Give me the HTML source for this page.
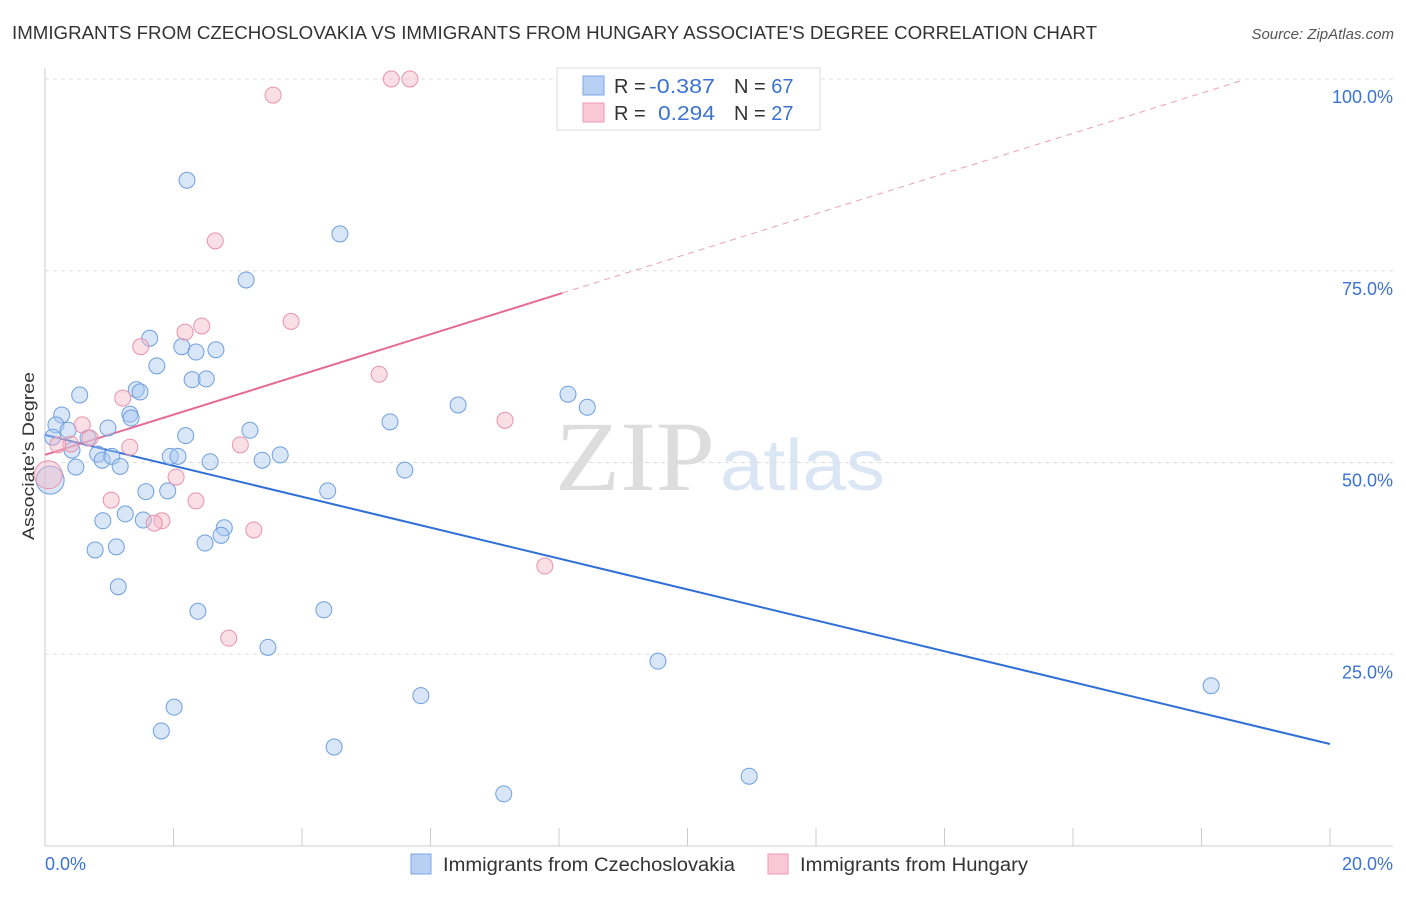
<!DOCTYPE html>
<html><head><meta charset="utf-8"><style>
body{margin:0;background:#fff;font-family:"Liberation Sans",sans-serif;}
svg text{font-family:"Liberation Sans",sans-serif;}
</style></head><body>
<svg id="chart" width="1406" height="892" xmlns="http://www.w3.org/2000/svg">
<text x="12" y="39" font-size="18" fill="#333" textLength="1085" lengthAdjust="spacingAndGlyphs">IMMIGRANTS FROM CZECHOSLOVAKIA VS IMMIGRANTS FROM HUNGARY ASSOCIATE'S DEGREE CORRELATION CHART</text>
<text x="1394" y="39" font-size="15" fill="#555" text-anchor="end" font-style="italic">Source: ZipAtlas.com</text>
<text x="555" y="490" font-size="100" fill="#ddd" textLength="160" lengthAdjust="spacingAndGlyphs" style="font-family:'Liberation Serif',serif">ZIP</text>
<text x="720" y="490" font-size="72" fill="#dbe6f5" textLength="165" lengthAdjust="spacingAndGlyphs">atlas</text>
<g id="grid"></g>
<g id="axes"></g>
<g id="lines"></g>
<g id="pts"></g>
<text transform="translate(34,456) rotate(-90)" font-size="17" fill="#333" text-anchor="middle" textLength="168" lengthAdjust="spacingAndGlyphs">Associate's Degree</text>
<g>
<rect x="557" y="68" width="263" height="62" fill="#fff" stroke="#ddd"/>
<rect x="583" y="76" width="21" height="19" fill="#b8d0f4" stroke="#7aa6e6"/>
<rect x="583" y="103" width="21" height="19" fill="#f9c8d6" stroke="#ee9ab4"/>
<text x="614" y="93" font-size="20" fill="#333">R = </text>
<text x="649" y="93" font-size="20" fill="#3b73d1" textLength="66" lengthAdjust="spacingAndGlyphs">-0.387</text>
<text x="734" y="93" font-size="20" fill="#333">N = <tspan fill="#3b73d1">67</tspan></text>
<text x="614" y="120" font-size="20" fill="#333">R = </text>
<text x="658" y="120" font-size="20" fill="#3b73d1" textLength="57" lengthAdjust="spacingAndGlyphs">0.294</text>
<text x="734" y="120" font-size="20" fill="#333">N = <tspan fill="#3b73d1">27</tspan></text>
</g>
<g>
<rect x="411" y="854" width="20" height="20" fill="#b8d0f4" stroke="#7aa6e6"/>
<text x="443" y="871" font-size="19" fill="#333" textLength="292" lengthAdjust="spacingAndGlyphs">Immigrants from Czechoslovakia</text>
<rect x="768" y="854" width="20" height="20" fill="#f9c8d6" stroke="#ee9ab4"/>
<text x="800" y="871" font-size="19" fill="#333" textLength="228" lengthAdjust="spacingAndGlyphs">Immigrants from Hungary</text>
</g>
</svg>
<script>
const blueX=[2.21,4.59,3.13,1.63,2.13,2.35,2.66,1.74,2.29,2.51,0.54,1.42,1.48,0.26,1.32,1.34,0.17,0.36,0.98,3.19,5.37,6.43,8.14,8.44,2.19,0.67,0.42,0.82,0.89,1.04,1.95,2.07,2.57,3.38,3.66,1.17,0.48,5.60,1.57,1.91,4.40,0.90,1.25,1.53,2.79,2.74,2.49,0.78,1.11,1.14,2.38,4.34,3.47,9.54,18.15,5.85,2.01,1.81,4.50,10.96,7.14,0.12,0.08];
const blueY=[86.8,79.8,73.8,66.2,65.1,64.4,64.7,62.6,60.8,60.9,58.8,59.5,59.2,56.2,56.3,55.8,54.9,54.2,54.5,54.2,55.3,57.5,58.9,57.2,53.5,53.2,51.6,51.1,50.3,50.8,50.8,50.8,50.1,50.3,51.0,49.5,49.4,49.0,46.2,46.3,46.3,42.4,43.3,42.5,41.5,40.5,39.5,38.6,39.0,33.8,30.6,30.8,25.9,24.1,20.9,19.6,18.1,15.0,12.9,9.1,6.8,53.3,47.7];
const pinkX=[5.39,5.68,3.55,2.65,3.83,2.18,2.44,1.49,5.20,1.21,7.16,0.58,0.70,0.40,1.32,3.04,2.04,1.03,2.35,1.82,1.70,3.25,7.78,2.86,0.05,0.20];
const pinkY=[100,100,97.9,78.9,68.4,67.0,67.8,65.1,61.5,58.4,55.5,54.9,53.2,52.4,52.0,52.3,48.1,45.1,45.0,42.4,42.1,41.2,36.5,27.1,48.4,52.3];
const blueFit=[53.6,13.3];
const pinkFit=[51.0,2.62];
const yTicks=[25,50,75,100];
const xTickLabels=["0.0%","20.0%"];
const NS="http://www.w3.org/2000/svg";
const sx=v=>45+v*64.25, sy=v=>846-v*7.67;
function mk(tag,attrs,parent){const e=document.createElementNS(NS,tag);for(const k in attrs)e.setAttribute(k,attrs[k]);document.getElementById(parent).appendChild(e);return e;}
yTicks.forEach(t=>{
 const l=mk('line',{x1:45,x2:1393,y1:sy(t),y2:sy(t),stroke:'#ddd','stroke-dasharray':'4,4'},'grid');
 
 
 const tx=mk('text',{x:1393,y:sy(t)+24,'font-size':18,fill:'#3b73d1','text-anchor':'end'},'grid');
 tx.textContent=t.toFixed(1)+'%';
 
 
});
mk('line',{x1:45,x2:45,y1:68,y2:846,stroke:'#ccc'},'axes');
mk('line',{x1:45,x2:1393,y1:846,y2:846,stroke:'#ccc'},'axes');
for(let i=0;i<=10;i++){const t=mk('line',{x1:sx(i*2),x2:sx(i*2),y1:828,y2:846,stroke:'#ccc'},'axes');
 
 }
let a=mk('text',{x:45,y:870,'font-size':18,fill:'#3b73d1'},'axes');a.textContent=xTickLabels[0];


a=mk('text',{x:1393,y:870,'font-size':18,fill:'#3b73d1','text-anchor':'end'},'axes');a.textContent=xTickLabels[1];


let ln=mk('line',{x1:sx(0),y1:sy(blueFit[0]),x2:sx(20),y2:sy(blueFit[1]),stroke:'#2f6fd8','stroke-width':2},'lines');


ln=mk('line',{x1:sx(0),y1:sy(pinkFit[0]),x2:sx(8.05),y2:sy(pinkFit[0]+pinkFit[1]*8.05),stroke:'#e56b95','stroke-width':2},'lines');


ln=mk('line',{x1:sx(8.05),y1:sy(pinkFit[0]+pinkFit[1]*8.05),x2:sx(18.6),y2:sy(pinkFit[0]+pinkFit[1]*18.6),stroke:'#eaa0b8','stroke-width':1,'stroke-dasharray':'6,5'},'lines');


blueX.forEach((x,i)=>{const r=i===blueX.length-1?14:8;
 const c=mk('circle',{cx:sx(x),cy:sy(blueY[i]),r:r,fill:'rgba(168,200,240,0.45)',stroke:'#6e9fe0','stroke-width':1},'pts');
 
 });
pinkX.forEach((x,i)=>{const r=i===pinkX.length-2?14:8;
 const c=mk('circle',{cx:sx(x),cy:sy(pinkY[i]),r:r,fill:'rgba(245,184,200,0.45)',stroke:'#e992ad','stroke-width':1},'pts');
 
 });
</script>
</body></html>
